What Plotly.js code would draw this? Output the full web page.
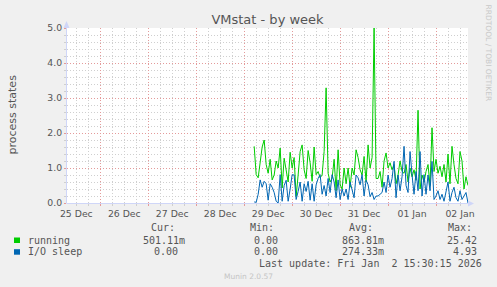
<!DOCTYPE html>
<html>
<head>
<meta charset="utf-8">
<script src="https://cdn.plot.ly/plotly-3.0.1.min.js"></script>
<style>
html,body{margin:0;padding:0;background:#f0f0f0;}
#chart{width:497px;height:287px;}
</style>
</head>
<body>
<div id="chart"></div>
<script>
// ---- data (hourly samples) ----
const seriesStart = "2025-12-29T05:00:00";
const stepHours = 1;
const running = [1.62,0.81,0.72,1.15,1.60,1.80,1.10,0.85,1.25,0.66,0.80,1.20,1.00,1.57,0.43,1.28,0.90,0.60,1.45,1.00,
  1.30,0.19,0.80,1.47,1.66,0.95,0.70,1.50,1.15,0.62,1.60,0.81,0.90,0.72,0.80,1.47,3.29,0.85,0.60,0.71,
  1.25,0.35,1.52,0.52,0.40,1.00,0.55,1.00,0.45,1.00,0.80,1.52,1.30,0.95,0.80,1.33,0.60,1.66,1.00,1.30,
  5.00,0.70,0.70,0.90,0.45,1.20,1.43,1.00,1.15,0.95,1.10,0.55,0.80,1.20,0.90,0.85,1.10,0.60,1.00,0.75,
  0.95,0.65,2.65,0.40,0.80,0.60,0.90,1.10,0.50,2.15,0.90,1.25,0.85,1.05,0.75,1.10,0.60,1.40,0.55,1.62,
  1.10,0.70,0.55,1.47,1.20,0.40,0.75,0.50];
const ioSleep = [0.03,0.02,0.25,0.66,0.45,0.62,0.55,0.08,0.55,0.45,0.30,0.05,0.00,0.81,0.05,0.50,0.65,0.05,0.40,0.81,
  0.80,0.10,0.33,0.60,0.05,0.55,0.33,0.62,0.08,0.55,0.05,0.52,0.70,0.81,0.25,0.50,0.20,0.70,0.30,0.81,
  0.60,0.15,0.66,0.10,0.40,0.20,0.40,0.10,0.60,0.40,0.15,0.80,0.72,0.52,0.81,0.20,0.65,0.52,0.18,0.30,
  0.10,0.20,0.20,0.25,0.30,0.60,0.30,0.80,0.45,0.70,1.19,0.15,0.80,0.35,0.75,1.62,0.50,0.30,1.47,0.80,
  0.25,0.90,0.35,1.47,0.20,0.81,0.25,0.80,0.35,1.19,0.10,0.20,0.35,0.10,0.25,0.05,0.30,0.60,0.05,0.30,
  0.45,0.15,0.05,0.35,0.10,0.20,0.30,0.00];
const seriesNames = ["running", "I/O sleep"];
const seriesColors = ["#00cc00", "#0066b3"];
const statHeaders = ["Cur:", "Min:", "Avg:", "Max:"];
const statsRunning = ["501.11m", "0.00", "863.81m", "25.42"];
const statsIoSleep = ["0.00", "0.00", "274.33m", "4.93"];
const xRange = ["2025-12-25 07:20:00", "2026-01-02 16:00:00"];
const yRange = [0, 5];
const chartTitle = "VMstat - by week";
const yTitle = "process states";
const lastUpdate = "Last update: Fri Jan&nbsp;&nbsp;2 15:30:15 2026";
const footer = "Munin 2.0.57";
const sideText = "RRDTOOL / TOBI OETIKER";

// ---- build time stamps ----
function stamp(i){
  const base = Date.parse(seriesStart + "Z");
  return new Date(base + i*stepHours*3600000).toISOString().slice(0,19).replace("T"," ");
}
const times = running.map((_, i) => stamp(i));

// ---- geometry helpers (pixel -> paper) ----
const W = 497, H = 287, L = 67, R = 29, T = 28, B = 84;
const PW = W - L - R, PH = H - T - B;
const px = x => (x - L) / PW;
const py = y => (H - B - y) / PH;

const font = "DejaVu Sans, sans-serif";
const mono = "DejaVu Sans Mono, monospace";
const txt = "#555555";
const major = "#e49a9a";
const minor = "#cfcfcf";
const dash = "1px,2px";
const axisCol = "#cfd6f8";

const traces = [
  {x: times, y: running, name: seriesNames[0], type: "scatter", mode: "lines",
   line: {color: seriesColors[0], width: 1}, hoverinfo: "skip"},
  {x: times, y: ioSleep, name: seriesNames[1], type: "scatter", mode: "lines",
   line: {color: seriesColors[1], width: 1}, hoverinfo: "skip"}
];

const ann = [];
function A(text, x, y, anchor, opts){
  ann.push(Object.assign({text: text, xref: "paper", yref: "paper", x: px(x), y: py(y),
    xanchor: anchor, yanchor: "middle", showarrow: false, borderpad: 0,
    font: {family: mono, size: 10, color: txt}}, opts || {}));
}
const headerLeft = [150, 249, 348, 446.5];
statHeaders.forEach((h, i) => A(h, headerLeft[i], 227.5, "left"));
A(seriesNames[0], 26.5, 240, "left");
A(seriesNames[1], 26.5, 251.7, "left");
const row1Right = [185.5, 278.5, 384.5, 477.5];
const row2Right = [179, 278.5, 384.5, 477.5];
statsRunning.forEach((v, i) => A(v, row1Right[i], 240, "right"));
statsIoSleep.forEach((v, i) => A(v, row2Right[i], 251.7, "right"));
A(lastUpdate, 482.5, 263.5, "right");
A(footer, 248, 276.5, "center", {font: {family: font, size: 7.5, color: "#c4c4c4"}});
A(sideText, 488.5, 53, "center", {textangle: 90, font: {family: font, size: 7.5, color: "#c8c8c8"}});
A(yTitle, 11.5, 114, "center", {textangle: -90, font: {family: font, size: 11, color: txt}});

const shapes = [
  // legend swatches
  {type: "rect", xref: "paper", yref: "paper", x0: px(14), x1: px(20), y0: py(243), y1: py(237.5),
   fillcolor: seriesColors[0], line: {width: 0}},
  {type: "rect", xref: "paper", yref: "paper", x0: px(14), x1: px(20), y0: py(254.7), y1: py(249.2),
   fillcolor: seriesColors[1], line: {width: 0}},
  // axis arrows
  {type: "line", xref: "paper", yref: "paper", x0: px(66.5), x1: px(66.5), y0: py(203), y1: py(22),
   line: {color: axisCol, width: 1}},
  {type: "path", xref: "paper", yref: "paper",
   path: `M ${px(63.5)} ${py(28)} L ${px(69.5)} ${py(28)} L ${px(66.5)} ${py(21)} Z`,
   fillcolor: axisCol, line: {width: 0}},
  {type: "line", xref: "paper", yref: "paper", x0: px(66.5), x1: px(472), y0: py(203.5), y1: py(203.5),
   line: {color: axisCol, width: 1}},
  {type: "path", xref: "paper", yref: "paper",
   path: `M ${px(468)} ${py(200.5)} L ${px(468)} ${py(206.5)} L ${px(474)} ${py(203.5)} Z`,
   fillcolor: axisCol, line: {width: 0}}
];

const layout = {
  width: W, height: H,
  paper_bgcolor: "#f0f0f0", plot_bgcolor: "#ffffff",
  margin: {l: L, r: R, t: T, b: B},
  showlegend: false,
  title: {text: chartTitle, x: 0.5, xanchor: "center", xref: "paper", y: 1 - 19.5/H, yref: "container",
    yanchor: "middle", font: {family: font, size: 13, color: txt}},
  xaxis: {type: "date", range: xRange, tick0: "2025-12-25", dtick: 86400000,
    ticklabelmode: "period", tickformat: "%d %b",
    showgrid: true, gridcolor: major, griddash: dash, gridwidth: 1,
    ticks: "outside", ticklen: 2, tickcolor: major,
    minor: {dtick: 6*3600000, tick0: "2025-12-25", showgrid: true, gridcolor: minor, griddash: dash,
      ticks: "outside", ticklen: 2, tickcolor: minor},
    showline: false, zeroline: false,
    tickfont: {family: font, size: 9.3, color: txt}, fixedrange: true},
  yaxis: {range: yRange, dtick: 1, tick0: 0, tickformat: ".1f",
    showgrid: true, gridcolor: major, griddash: dash, gridwidth: 1,
    ticks: "outside", ticklen: 2, tickcolor: major,
    minor: {dtick: 0.2, showgrid: true, gridcolor: minor, griddash: dash,
      ticks: "outside", ticklen: 2, tickcolor: minor},
    showline: false, zeroline: false,
    tickfont: {family: font, size: 9.3, color: txt}, fixedrange: true},
  annotations: ann,
  shapes: shapes
};

Plotly.newPlot("chart", traces, layout, {displayModeBar: false, staticPlot: true});
</script>
</body>
</html>
